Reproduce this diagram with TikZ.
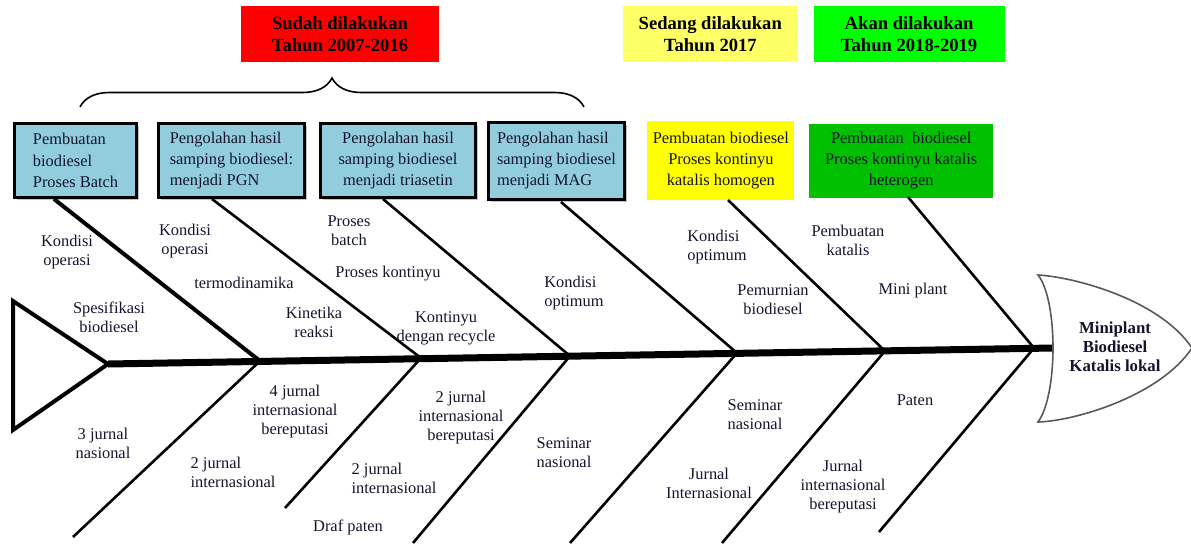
\documentclass[tikz,border=0pt]{standalone}
\usepackage{fontspec}
\setmainfont{Liberation Serif}
\usetikzlibrary{positioning, calc, shadows, decorations.pathreplacing}
\definecolor{boxBlue}{RGB}{146,205,221}
\definecolor{hdrRed}{RGB}{255,0,0}
\definecolor{hdrYellow}{RGB}{255,255,102}
\definecolor{hdrGreen}{RGB}{0,255,0}
\definecolor{nowYellow}{RGB}{255,255,0}
\definecolor{nextGreen}{RGB}{0,192,0}
\definecolor{ink}{RGB}{20,20,45}

\begin{document}
\begin{tikzpicture}[
  x=0.5pt, y=-0.5pt,
  font=\fontsize{8.2}{9.5}\selectfont,
  node distance=8pt
]
% -------------------- Styles --------------------
\tikzset{
  header/.style={
    font=\fontsize{9.3}{11}\selectfont\bfseries,
    align=center, inner sep=2pt, minimum height=28pt
  },
  cause/.style={
    draw, line width=1.5pt, fill=boxBlue,
    align=left, inner sep=3pt,
    font=\fontsize{8.2}{10.7}\selectfont, text=ink,
    minimum height=37pt,
    drop shadow={shadow xshift=1.3pt, shadow yshift=-1.3pt, fill=black!45}
  },
  stage/.style={
    align=center, inner sep=2pt,
    font=\fontsize{8.2}{10.7}\selectfont, text=ink
  },
  lbl/.style={align=center, inner sep=1pt, text=ink},
  bone/.style={line width=1.3pt},
  boneMain/.style={line width=2pt},
  spine/.style={line width=3.5pt},
  tail/.style={line width=2pt, line join=miter},
  curly/.style={decorate, decoration={brace, amplitude=14.5pt, aspect=0.5}, line width=0.8pt}
}
\useasboundingbox (0,0) rectangle (1191,543);

% -------------------- Headers (top row) --------------------
\node[header, fill=hdrRed, minimum width=99pt] (hdrDone) at (340,34) {Sudah dilakukan\\Tahun 2007-2016};
\node[header, fill=hdrYellow, minimum width=87.5pt, right=91.5pt of hdrDone] (hdrNow) {Sedang dilakukan\\Tahun 2017};
\node[header, fill=hdrGreen, minimum width=95.5pt, right=7.5pt of hdrNow] (hdrNext) {Akan dilakukan\\Tahun 2018-2019};

% brace over the finished work
\coordinate (braceL) at (80,107);
\coordinate (braceR) at (584,107);
\draw[curly] (braceL) -- (braceR);

% -------------------- Cause boxes --------------------
\node[cause, minimum width=61pt, anchor=north west] (batch) at (13,122) {
  Pembuatan\\biodiesel\\Proses Batch
};
\node[cause, minimum width=73pt, right=9.5pt of batch] (pgn) {
  Pengolahan hasil\\samping biodiesel:\\menjadi PGN
};
\node[cause, minimum width=77.5pt, align=center, right=6.5pt of pgn] (triasetin) {
  Pengolahan hasil\\samping biodiesel\\menjadi triasetin
};
\node[cause, minimum width=68pt, minimum height=38.5pt, right=5pt of triasetin] (mag) {
  Pengolahan hasil\\samping biodiesel\\menjadi MAG
};
\node[stage, fill=nowYellow, minimum width=73.5pt, minimum height=39.5pt, right=10.5pt of mag] (homogen) {
  Pembuatan biodiesel\\Proses kontinyu\\katalis homogen
};
\node[stage, fill=nextGreen, minimum width=92pt, minimum height=37pt, right=7pt of homogen] (heterogen) {
  Pembuatan\ \ biodiesel\\Proses kontinyu katalis\\heterogen
};

% -------------------- Spine, tail and head --------------------
\coordinate (tailTip) at (108,364);
\coordinate (headIn) at (1053,348);
\draw[tail] (13,301) -- (tailTip) -- (13,430) -- cycle;
\draw[spine] (tailTip) -- (headIn);

\draw[line width=0.8pt, draw=black!65] (1038,275)
  .. controls (1075,277) and (1160,300) .. (1192,348)
  .. controls (1160,396) and (1075,421) .. (1038,422)
  .. controls (1058,395) and (1058,300) .. cycle;
\node[lbl, font=\fontsize{8.4}{9.6}\selectfont\bfseries] (goal) at (1115,347) {Miniplant\\Biodiesel\\Katalis lokal};

% junctions on the spine
\coordinate (j1) at (260,361);
\coordinate (j2) at (421,358);
\coordinate (j3) at (570,356);
\coordinate (j4) at (737,353);
\coordinate (j5) at (885,351);
\coordinate (j6) at (1034,348);

% -------------------- Upper bones --------------------
\coordinate (u1) at (54,199);
\coordinate (u2) at (212,199);
\coordinate (u3) at (383,199);
\coordinate (u4) at (561,202);
\coordinate (u5) at (728,200);
\coordinate (u6) at (908,197);
\draw[boneMain] (u1) -- (j1);
\draw[bone] (u2) -- (j2);
\draw[bone] (u3) -- (j3);
\draw[bone] (u4) -- (j4);
\draw[bone] (u5) -- (j5);
\draw[bone] (u6) -- (j6);

% -------------------- Lower bones --------------------
\coordinate (d1) at (73,537);
\coordinate (d2) at (285,508);
\coordinate (d3) at (413,543);
\coordinate (d4) at (570,543);
\coordinate (d5) at (722,543);
\coordinate (d6) at (879,532);
\draw[bone] (j1) -- (d1);
\draw[bone] (j2) -- (d2);
\draw[bone] (j3) -- (d3);
\draw[bone] (j4) -- (d4);
\draw[bone] (j5) -- (d5);
\draw[bone] (j6) -- (d6);

% -------------------- Labels above the spine --------------------
\node[lbl] (opA) at (67,252) {Kondisi\\operasi};
\node[lbl] (spec) at (109,317) {Spesifikasi\\biodiesel};
\node[lbl] (opB) at (185,241) {Kondisi\\operasi};
\node[lbl] (termo) at (244,283) {termodinamika};
\node[lbl] (kinet) at (314,322) {Kinetika\\reaksi};
\node[lbl] (pbatch) at (349,231) {Proses\\batch};
\node[lbl] (pkont) at (388,274) {Proses kontinyu};
\node[lbl] (recyc) at (446,328) {Kontinyu\\dengan recycle};
\node[lbl, align=left] (optA) at (574,293) {Kondisi\\optimum};
\node[lbl, align=left] (optB) at (717,247) {Kondisi\\optimum};
\node[lbl] (murni) at (773,300) {Pemurnian\\biodiesel};
\node[lbl] (katal) at (848,240) {Pembuatan\\katalis};
\node[lbl] (mini) at (913,291) {Mini plant};

% -------------------- Labels below the spine --------------------
\node[lbl] (jnas) at (103,443) {3 jurnal\\nasional};
\node[lbl] (jrepA) at (295,412) {4 jurnal\\internasional\\bereputasi};
\node[lbl, align=left] (jintA) at (233,472) {2 jurnal\\internasional};
\node[lbl] (jrepB) at (461,418) {2 jurnal\\internasional\\bereputasi};
\node[lbl, align=left] (jintB) at (394,478) {2 jurnal\\internasional};
\node[lbl] (draf) at (348,527) {Draf paten};
\node[lbl] (semA) at (564,453) {Seminar\\nasional};
\node[lbl] (semB) at (755,415) {Seminar\\nasional};
\node[lbl] (jintC) at (709,483) {Jurnal\\Internasional};
\node[lbl] (paten) at (915,400) {Paten};
\node[lbl] (jrepC) at (843,487) {Jurnal\\internasional\\bereputasi};

\end{tikzpicture}
\end{document}
